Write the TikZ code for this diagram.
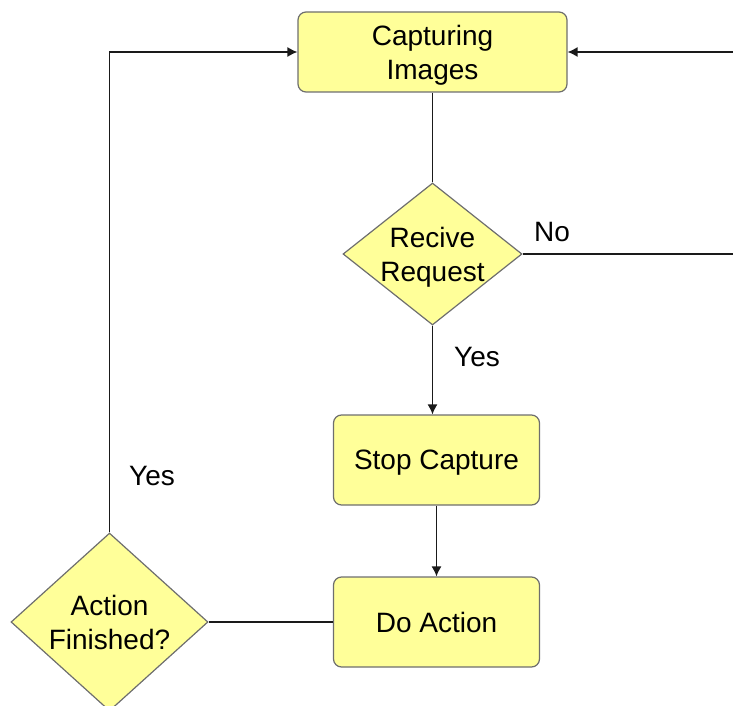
\documentclass[tikz,border=0pt]{standalone}
\usepackage{fontspec}
\setmainfont{Liberation Sans}
\usetikzlibrary{shapes.geometric,arrows.meta}
\definecolor{boxfill}{HTML}{FFFF99}
\definecolor{boxline}{HTML}{6E6E6E}
\definecolor{wire}{HTML}{1A1A1A}
\begin{document}
\begin{tikzpicture}[x=1pt,y=-1pt,
  every node/.style={font=\fontsize{28}{34}\selectfont},
  stepbox/.style={draw=boxline,fill=boxfill,line width=1.2pt,rounded corners=8pt,
    align=center,inner sep=0pt,text depth=0pt},
  decision/.style={diamond,draw=boxline,fill=boxfill,line width=1.2pt,
    align=center,inner sep=0pt},
  wire/.style={draw=wire,line width=1.3pt},
  flow/.style={wire,-{Latex[length=10pt,width=10pt]}},
  lbl/.style={inner sep=0pt}]
\useasboundingbox (0,0) rectangle (733,706);

% process boxes
\node[stepbox,minimum width=269pt,minimum height=80pt] (cap) at (432.5,52) {Capturing\\Images};
\node[stepbox,minimum width=206pt,minimum height=90pt] (stop) at (436.5,460) {Stop Capture};
\node[stepbox,minimum width=206pt,minimum height=90pt] (act) at (436.5,622) {Do Action};

% decisions
\node[decision,aspect=1.26,minimum width=179pt,minimum height=142pt,text depth=0pt] (req) at (432.5,254) {Recive\\Request};
\node[decision,aspect=1.1,minimum width=197pt,minimum height=178pt] (fin) at (109.5,622) {Action\\Finished?};

% return paths
\coordinate (rcorner) at (742,254);
\coordinate (rtop) at (742,52);
\coordinate (ltop) at (109.5,52);

% connectors
\draw[wire] (cap.south) -- (req.north);
\draw[flow] (req.south) -- (req.south |- stop.north);
\draw[flow] (stop.south) -- (act.north);
\draw[wire] (act.west) -- (fin.east);
\draw[flow] (fin.north) -- (ltop) -- (cap.west);
\draw[flow] (req.east) -- (rcorner) -- (rtop) -- (cap.east);

% branch labels
\node[lbl] (no) at (552,232) {No};
\node[lbl] (yes1) at (477,357) {Yes};
\node[lbl] (yes2) at (152,476) {Yes};
\end{tikzpicture}
\end{document}
